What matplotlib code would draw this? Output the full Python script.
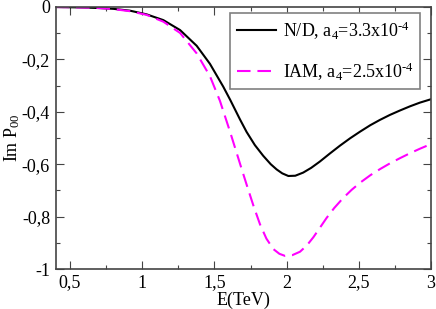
import matplotlib
matplotlib.use("Agg")
import matplotlib.pyplot as plt
from matplotlib.ticker import MultipleLocator, FuncFormatter

# values
energy_nd = [0.40, 0.50, 0.60, 0.70, 0.80, 0.915, 1.03, 1.146, 1.262, 1.377, 1.469,
             1.561, 1.608, 1.677, 1.723, 1.78, 1.838, 1.89, 1.931, 1.97, 2.012, 2.06,
             2.115, 2.17, 2.23, 2.30, 2.37, 2.44, 2.508, 2.58, 2.646, 2.715, 2.785,
             2.855, 2.923, 3.00]
im_nd = [0.0, -0.001, -0.002, -0.004, -0.007, -0.014, -0.028, -0.050, -0.088, -0.148,
         -0.217, -0.304, -0.353, -0.429, -0.477, -0.527, -0.568, -0.600, -0.620, -0.635,
         -0.645, -0.644, -0.632, -0.614, -0.590, -0.559, -0.529, -0.501, -0.476, -0.451,
         -0.431, -0.412, -0.395, -0.379, -0.365, -0.352]

energy_iam = [0.40, 0.50, 0.60, 0.70, 0.80, 0.915, 1.03, 1.146, 1.262, 1.377, 1.469,
              1.538, 1.607, 1.68, 1.723, 1.77, 1.816, 1.86, 1.908, 1.95, 1.989, 2.04,
              2.093, 2.14, 2.185, 2.23, 2.277, 2.33, 2.39, 2.45, 2.508, 2.58, 2.646,
              2.715, 2.785, 2.855, 2.923, 3.00]
im_iam = [0.0, -0.001, -0.002, -0.004, -0.008, -0.016, -0.030, -0.056, -0.099, -0.177,
          -0.264, -0.358, -0.474, -0.603, -0.678, -0.758, -0.830, -0.884, -0.924, -0.942,
          -0.950, -0.947, -0.934, -0.910, -0.879, -0.843, -0.805, -0.767, -0.730, -0.698,
          -0.671, -0.642, -0.619, -0.597, -0.577, -0.558, -0.541, -0.523]

plt.rcParams["font.family"] = "serif"
plt.rcParams["font.serif"] = ["Liberation Serif", "Times New Roman", "DejaVu Serif"]
plt.rcParams["mathtext.fontset"] = "custom"
plt.rcParams["mathtext.rm"] = "Liberation Serif"
plt.rcParams["mathtext.it"] = "Liberation Serif"

fig = plt.figure(figsize=(4.36, 3.09), dpi=100)
ax = fig.add_axes([55.6 / 436, 1 - 269 / 309, (431 - 55.6) / 436, (269 - 7) / 309])

ax.plot(energy_nd, im_nd, color="black", linewidth=1.5,
        label=r"N/D, a$_4$=3.3x10$^{\text{-}4}$")
ax.plot(energy_iam, im_iam, color="#ff00ff", linewidth=1.5, linestyle=(0, (6.5, 3.3)),
        label=r"IAM, a$_4$=2.5x10$^{\text{-}4}$")

ax.set_xlim(0.4, 3.0)
ax.set_ylim(-1.0, 0.0)
ax.xaxis.set_major_locator(MultipleLocator(0.5))
ax.xaxis.set_minor_locator(MultipleLocator(0.25))
ax.yaxis.set_major_locator(MultipleLocator(0.2))
ax.yaxis.set_minor_locator(MultipleLocator(0.1))


def comma(v, pos):
    s = f"{round(v, 3):g}"
    if s == "-0":
        s = "0"
    return s.replace(".", ",")


ax.xaxis.set_major_formatter(FuncFormatter(comma))
ax.yaxis.set_major_formatter(FuncFormatter(comma))
ax.tick_params(which="both", direction="in", top=True, right=True, labelsize=13,
               width=0.8, color="#444444", pad=4)
ax.tick_params(which="major", length=6)
ax.tick_params(which="minor", length=3)
for s in ax.spines.values():
    s.set_linewidth(1.2)
    s.set_color("#444444")

ax.set_xlabel("E(TeV)", fontsize=13, labelpad=0)
ax.set_ylabel(r"Im P$_{00}$", fontsize=13, labelpad=0)

leg = ax.legend(loc="upper right", fontsize=13, fancybox=False, framealpha=1,
                edgecolor="#808080", handlelength=2.2, borderpad=0.35,
                labelspacing=1.05, handletextpad=0.35, borderaxespad=0,
                bbox_to_anchor=(1 - 11 / 375.4, 1 - 6 / 262))
leg.get_frame().set_linewidth(1.2)

fig.savefig("out.png", dpi=100)
